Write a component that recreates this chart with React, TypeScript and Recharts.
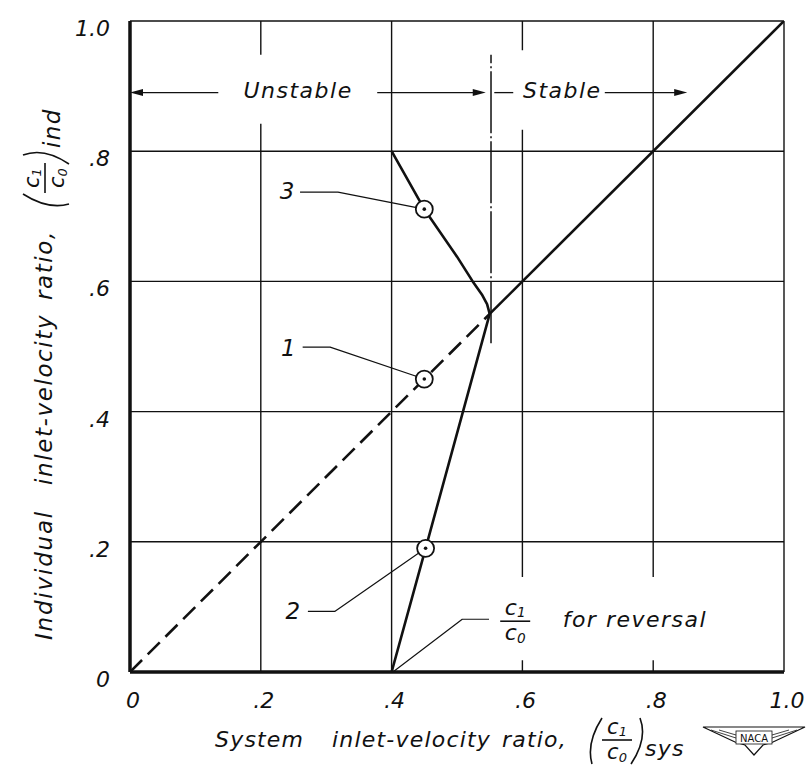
import React from 'react';
import {
  ComposedChart,
  Line,
  Scatter,
  XAxis,
  YAxis,
  CartesianGrid,
  ReferenceLine,
  ReferenceDot,
  ReferenceArea,
} from 'recharts';

const FONT = '"DejaVu Sans", "Liberation Sans", sans-serif';
const INK = '#111';

// ---------- axes ----------
const axisTicks = [0, 0.2, 0.4, 0.6, 0.8, 1.0];
const xTickLabels = ['0', '.2', '.4', '.6', '.8', '1.0'];
const yTickLabels = ['0', '.2', '.4', '.6', '.8', '1.0'];

// ---------- curves (x = system ratio, y = individual ratio) ----------
const equalityDashed = [{ x: 0, y: 0 }, { x: 0.55, y: 0.55 }];
const equalitySolid = [{ x: 0.55, y: 0.55 }, { x: 1.0, y: 1.0 }];
const curve2 = [{ x: 0.4, y: 0 }, { x: 0.452, y: 0.19 }, { x: 0.55, y: 0.55 }];
const curve3 = [
  { x: 0.4, y: 0.8 },
  { x: 0.45, y: 0.711 },
  { x: 0.5, y: 0.638 },
  { x: 0.524, y: 0.6 },
  { x: 0.538, y: 0.58 },
  { x: 0.546, y: 0.565 },
  { x: 0.55, y: 0.55 },
];

// ---------- operating points ----------
const pointNames = ['3', '1', '2'];
const pointX = [0.45, 0.45, 0.452];
const pointY = [0.711, 0.45, 0.19];
const labelX = [0.24, 0.242, 0.249];
const labelY = [0.739, 0.498, 0.094];
const operatingPoints = pointNames.map((n, i) => ({ name: n, x: pointX[i], y: pointY[i] }));

// ---------- leader lines ----------
const leader3 = [{ x: 0.26, y: 0.737 }, { x: 0.318, y: 0.737 }, { x: 0.45, y: 0.711 }];
const leader1 = [{ x: 0.264, y: 0.499 }, { x: 0.306, y: 0.499 }, { x: 0.45, y: 0.45 }];
const leader2 = [{ x: 0.272, y: 0.093 }, { x: 0.313, y: 0.093 }, { x: 0.452, y: 0.19 }];
const leaderReversal = [{ x: 0.402, y: 0 }, { x: 0.508, y: 0.081 }, { x: 0.549, y: 0.081 }];

// ---------- stability arrows ----------
const arrowY = 0.89;
const unstableLeftShaft = [{ x: 0.135, y: arrowY }, { x: 0.012, y: arrowY }];
const unstableRightShaft = [{ x: 0.378, y: arrowY }, { x: 0.53, y: arrowY }];
const stableLeftShaft = [{ x: 0.557, y: arrowY }, { x: 0.586, y: arrowY }];
const stableRightShaft = [{ x: 0.726, y: arrowY }, { x: 0.84, y: arrowY }];
const arrowTipX = [0, 0.544, 0.852];
const arrowDir = [-1, 1, 1];

// ---------- stability limit (dash-dot) ----------
const stabilityLimitX = 0.552;
const stabilityLimitY = [0.505, 0.948];

// ---------- text annotations ----------
const regionTexts = ['Unstable', 'Stable'];
const regionTextX = [0.257, 0.661];
const regionTextY = 0.894;
const reversalText = 'for reversal';
const reversalTextPos = { x: 0.772, y: 0.081 };
const reversalFracPos = { x: 0.589, y: 0.078 };

// white masks behind lettering (break the grid like the original)
const masks = [
  { x1: 0.141, x2: 0.37, y1: 0.842, y2: 0.948 },
  { x1: 0.589, x2: 0.725, y1: 0.833, y2: 0.955 },
  { x1: 0.556, x2: 0.9, y1: 0.018, y2: 0.146 },
];

const txt = { fontFamily: FONT, fontStyle: 'italic' as const, fill: INK };

const Fraction = ({ cx, barY, size = 21 }: { cx: number; barY: number; size?: number }) => (
  <g>
    <text x={cx} y={barY - 6} textAnchor="middle" fontSize={size} {...txt}>
      c<tspan fontSize={size * 0.62} dy={2}>1</tspan>
    </text>
    <line x1={cx - 15} x2={cx + 15} y1={barY} y2={barY} stroke={INK} strokeWidth={1.6} />
    <text x={cx} y={barY + 19} textAnchor="middle" fontSize={size} {...txt}>
      c<tspan fontSize={size * 0.62} dy={3}>0</tspan>
    </text>
  </g>
);

const Paren = ({ x, top, bottom, right }: { x: number; top: number; bottom: number; right?: boolean }) => {
  const mid = (top + bottom) / 2;
  const d = right
    ? `M${x + 6} ${top} Q${x + 14} ${mid - 2} ${x - 3} ${bottom}`
    : `M${x + 12} ${top} Q${x - 4} ${mid + 2} ${x + 2} ${bottom}`;
  return <path d={d} fill="none" stroke={INK} strokeWidth={1.6} />;
};

const NacaLogo = ({ x, y }: { x: number; y: number }) => (
  <g>
    <path
      d={`M${x} ${y + 3} L${x + 102} ${y + 3} L${x + 70} ${y + 18} L${x + 60} ${y + 21} L${x + 51} ${y + 31} L${x + 42} ${y + 21} L${x + 32} ${y + 18} Z`}
      fill="none"
      stroke={INK}
      strokeWidth={1.2}
    />
    <path
      d={`M${x + 8} ${y + 6} L${x + 33} ${y + 14} M${x + 94} ${y + 6} L${x + 69} ${y + 14} M${x + 16} ${y + 6} L${x + 33} ${y + 11} M${x + 86} ${y + 6} L${x + 69} ${y + 11}`}
      fill="none"
      stroke={INK}
      strokeWidth={0.8}
    />
    <rect x={x + 33} y={y + 7} width={36} height={13} fill="#fff" stroke={INK} strokeWidth={0.8} />
    <text x={x + 51} y={y + 17.5} textAnchor="middle" fontSize={10} fontFamily={FONT} fill={INK}>
      NACA
    </text>
  </g>
);

const XTick = (p: any) => (
  <text x={p.x + 3} y={p.y + 36} textAnchor="middle" fontSize={22} {...txt}>
    {xTickLabels[p.index]}
  </text>
);

const YTick = (p: any) => (
  <text x={p.x} y={p.y + 15} textAnchor="end" fontSize={22} {...txt}>
    {yTickLabels[p.index]}
  </text>
);

const XTitle = (props: any) => {
  const vb = props.viewBox || { x: 130, y: 672 };
  const ox = vb.x + 85;
  const oy = vb.y + 75;
  const fs = 22;
  const bar = oy - 7;
  return (
    <g>
      <text x={ox} y={oy} fontSize={fs} letterSpacing={1.2} {...txt}>System</text>
      <text x={ox + 117} y={oy} fontSize={fs} letterSpacing={1.2} {...txt}>inlet-velocity</text>
      <text x={ox + 287} y={oy} fontSize={fs} letterSpacing={1.2} {...txt}>ratio,</text>
      <Paren x={ox + 375} top={bar - 22} bottom={bar + 24} />
      <Fraction cx={ox + 402} barY={bar} />
      <Paren x={ox + 419} top={bar - 22} bottom={bar + 24} right />
      <text x={ox + 430} y={oy + 9} fontSize={fs} letterSpacing={1.2} {...txt}>sys</text>
      <NacaLogo x={vb.x + 573} y={vb.y + 52} />
    </g>
  );
};

const YTitle = (props: any) => {
  const vb = props.viewBox || { x: 8, y: 21, width: 122, height: 651 };
  const ox = vb.x + 44;
  const oy = vb.y + 619;
  const fs = 23;
  const bar = -7;
  return (
    <g transform={`translate(${ox},${oy}) rotate(-90)`}>
      <text x={0} y={0} fontSize={fs} letterSpacing={1.8} {...txt}>Individual</text>
      <text x={155} y={0} fontSize={fs} letterSpacing={1.6} {...txt}>inlet-velocity</text>
      <text x={340} y={0} fontSize={fs} letterSpacing={1.6} {...txt}>ratio,</text>
      <Paren x={434} top={bar - 22} bottom={bar + 24} />
      <Fraction cx={462} barY={bar} />
      <Paren x={479} top={bar - 22} bottom={bar + 24} right />
      <text x={492} y={8} fontSize={fs} letterSpacing={1.4} {...txt}>ind</text>
    </g>
  );
};

const ArrowHead = (dir: number) => (p: any) => (
  <polygon
    points={`${p.cx},${p.cy} ${p.cx - dir * 13},${p.cy - 3.5} ${p.cx - dir * 13},${p.cy + 3.5}`}
    fill={INK}
  />
);

const TextAt = (text: string, size = 22, spacing = 1.5) => (p: any) => (
  <text x={p.cx} y={p.cy + 8} textAnchor="middle" fontSize={size} letterSpacing={spacing} {...txt}>
    {text}
  </text>
);

const FracAt = (p: any) => <Fraction cx={p.cx} barY={p.cy} size={22} />;

const PointMarker = (p: any) => (
  <g>
    <circle cx={p.cx} cy={p.cy} r={8.5} fill="#fff" stroke={INK} strokeWidth={1.8} />
    <circle cx={p.cx} cy={p.cy} r={1.8} fill={INK} />
  </g>
);

const lineCommon = {
  dataKey: 'y',
  dot: false,
  activeDot: false,
  isAnimationActive: false,
  stroke: INK,
  strokeLinejoin: 'round' as const,
  legendType: 'none' as const,
};

export default function App() {
  return (
    <div style={{ width: 806, height: 767 }}>
      <style>{'html,body{margin:0;padding:0;overflow:hidden;}'}</style>
      <ComposedChart
        width={806}
        height={767}
        margin={{ top: 21, right: 22, left: 8, bottom: 0 }}
      >
        <CartesianGrid stroke={INK} strokeWidth={1.4} />
        <XAxis
          type="number"
          dataKey="x"
          domain={[0, 1]}
          ticks={axisTicks}
          interval={0}
          height={95}
          tickLine={false}
          tickSize={0}
          tickMargin={0}
          tick={XTick}
          axisLine={{ stroke: INK, strokeWidth: 3.5 }}
          label={XTitle}
          allowDataOverflow
        />
        <YAxis
          type="number"
          domain={[0, 1]}
          ticks={axisTicks}
          interval={0}
          width={122}
          tickLine={false}
          tickSize={0}
          tickMargin={20}
          tick={YTick}
          axisLine={{ stroke: INK, strokeWidth: 3.5 }}
          label={YTitle}
          allowDataOverflow
        />

        {masks.map((m, i) => (
          <ReferenceArea key={`m${i}`} x1={m.x1} x2={m.x2} y1={m.y1} y2={m.y2} fill="#fff" fillOpacity={1} stroke="none" />
        ))}

        <ReferenceLine
          segment={[{ x: stabilityLimitX, y: stabilityLimitY[0] }, { x: stabilityLimitX, y: stabilityLimitY[1] }]}
          stroke={INK}
          strokeWidth={1.5}
          strokeDasharray="62 3 2 3"
        />

        <Line {...lineCommon} data={equalityDashed} strokeWidth={2.6} strokeDasharray="17 8" />
        <Line {...lineCommon} data={equalitySolid} strokeWidth={2.6} />
        <Line {...lineCommon} data={curve2} strokeWidth={2.6} />
        <Line {...lineCommon} data={curve3} strokeWidth={2.6} />

        <Line {...lineCommon} data={leader3} strokeWidth={1.2} />
        <Line {...lineCommon} data={leader1} strokeWidth={1.2} />
        <Line {...lineCommon} data={leader2} strokeWidth={1.2} />
        <Line {...lineCommon} data={leaderReversal} strokeWidth={1.2} />

        <Line {...lineCommon} data={unstableLeftShaft} strokeWidth={1.3} />
        <Line {...lineCommon} data={unstableRightShaft} strokeWidth={1.3} />
        <Line {...lineCommon} data={stableLeftShaft} strokeWidth={1.3} />
        <Line {...lineCommon} data={stableRightShaft} strokeWidth={1.3} />

        {arrowTipX.map((ax, i) => (
          <ReferenceDot key={`a${i}`} x={ax} y={arrowY} r={0} shape={ArrowHead(arrowDir[i])} />
        ))}

        {regionTexts.map((t, i) => (
          <ReferenceDot key={`r${i}`} x={regionTextX[i]} y={regionTextY} r={0} shape={TextAt(t)} />
        ))}
        <ReferenceDot x={reversalTextPos.x} y={reversalTextPos.y} r={0} shape={TextAt(reversalText, 22, 1.5)} />
        <ReferenceDot x={reversalFracPos.x} y={reversalFracPos.y} r={0} shape={FracAt} />

        {pointNames.map((n, i) => (
          <ReferenceDot key={`l${i}`} x={labelX[i]} y={labelY[i]} r={0} shape={TextAt(n, 23, 0)} />
        ))}

        <Scatter data={operatingPoints} dataKey="y" shape={PointMarker} isAnimationActive={false} legendType="none" />
      </ComposedChart>
    </div>
  );
}
